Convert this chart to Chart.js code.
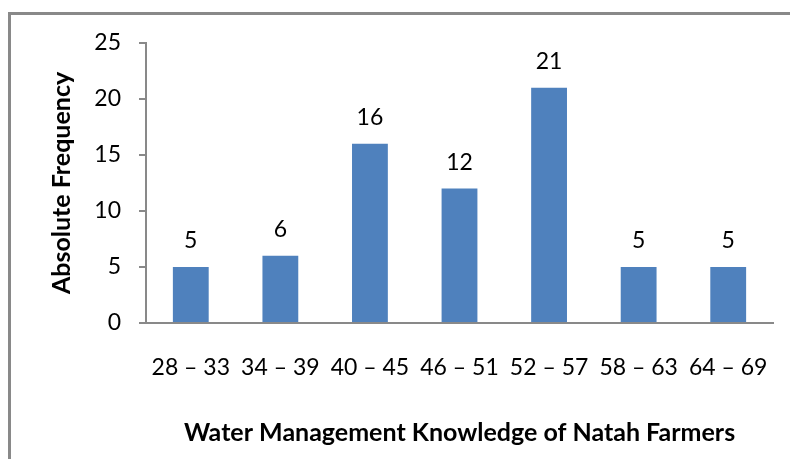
<!DOCTYPE html>
<html lang="en">
<head>
    <meta charset="UTF-8">
    <title>Water Management Knowledge of Natah Farmers</title>
    <style>
        html, body {
            margin: 0;
            padding: 0;
            background: #fff;
            overflow: hidden;
        }
        #wrap {
            position: relative;
            width: 790px;
            height: 459px;
        }
        #frame {
            position: absolute;
            left: 8px;
            top: 12px;
            width: 820px;
            height: 480px;
            border-left: 3px solid #898989;
            border-top: 3px solid #898989;
        }
        canvas {
            position: absolute;
            left: 0;
            top: 0;
        }
    </style>
    <script src="https://cdn.jsdelivr.net/npm/chart.js"></script>
</head>
<body>
    <div id="wrap">
        <div id="frame"></div>
        <canvas id="freqChart" width="790" height="459"></canvas>
    </div>
    <script>
        // class intervals and counts
        const categories = ['28 – 33', '34 – 39', '40 – 45', '46 – 51', '52 – 57', '58 – 63', '64 – 69'];
        const frequencies = [5, 6, 16, 12, 21, 5, 5];
        const yTicks = [0, 5, 10, 15, 20, 25];

        const FONT = 'Lato, "Open Sans", sans-serif';

        // draws the count above each bar
        const valueLabels = {
            id: 'valueLabels',
            afterDatasetsDraw(chart) {
                const ctx = chart.ctx;
                const meta = chart.getDatasetMeta(0);
                ctx.save();
                ctx.font = '23px ' + FONT;
                ctx.fillStyle = '#000';
                ctx.textAlign = 'center';
                ctx.textBaseline = 'middle';
                meta.data.forEach((bar, i) => {
                    ctx.fillText(String(frequencies[i]), bar.x, bar.y - 26);
                });
                ctx.restore();
            }
        };

        const ctx = document.getElementById('freqChart').getContext('2d');
        new Chart(ctx, {
            type: 'bar',
            data: {
                labels: categories,
                datasets: [{
                    data: frequencies,
                    backgroundColor: '#4F81BD',
                    borderWidth: 0,
                    categoryPercentage: 1,
                    barPercentage: 0.4
                }]
            },
            options: {
                responsive: false,
                animation: false,
                layout: {
                    padding: { left: 0, top: 43, right: 17, bottom: 0 }
                },
                plugins: {
                    legend: { display: false },
                    tooltip: { enabled: false }
                },
                scales: {
                    x: {
                        grid: { display: false, drawTicks: false },
                        border: { display: true, color: '#898989', width: 2 },
                        ticks: {
                            color: '#000',
                            font: { family: FONT, size: 23 },
                            padding: 31,
                            maxRotation: 0,
                            autoSkip: false
                        },
                        title: {
                            display: true,
                            text: 'Water Management Knowledge of Natah Farmers',
                            color: '#000',
                            font: { family: FONT, size: 25, weight: 'bold' },
                            padding: { top: 0, bottom: 11 }
                        },
                        afterFit(scale) {
                            scale.height = 136;
                            scale.paddingLeft = 0;
                            scale.paddingRight = 0;
                        }
                    },
                    y: {
                        min: 0,
                        max: 25,
                        afterBuildTicks(scale) {
                            scale.ticks = yTicks.map(v => ({ value: v }));
                        },
                        grid: {
                            display: true,
                            drawOnChartArea: false,
                            drawTicks: true,
                            tickLength: 7,
                            color: '#898989',
                            lineWidth: 2
                        },
                        border: { display: true, color: '#898989', width: 2 },
                        ticks: {
                            color: '#000',
                            font: { family: FONT, size: 23 },
                            padding: 18
                        },
                        title: {
                            display: true,
                            text: 'Absolute Frequency',
                            color: '#000',
                            font: { family: FONT, size: 25, weight: 'bold' },
                            padding: { top: 47, bottom: 0 }
                        },
                        afterFit(scale) {
                            scale.width = 146;
                            scale.paddingTop = 0;
                            scale.paddingBottom = 0;
                        }
                    }
                }
            },
            plugins: [valueLabels]
        });
    </script>
</body>
</html>
